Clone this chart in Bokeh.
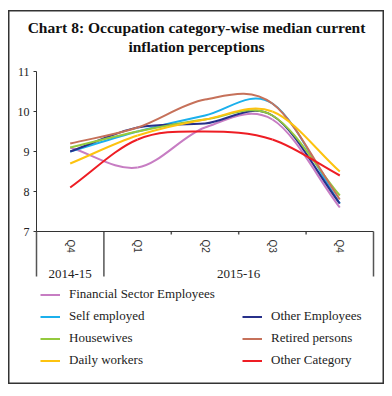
from bokeh.plotting import figure
from bokeh.models import (Range1d, Legend, LegendItem, Label, ColumnDataSource,
                          FixedTicker)
from bokeh.embed import file_html
from bokeh.resources import INLINE

# ---------------- data ----------------
years = ["2014-15", "2015-16", "2015-16", "2015-16", "2015-16"]
quarters = ["Q4", "Q1", "Q2", "Q3", "Q4"]
year_groups = ["2014-15", "2015-16"]

financial = [9.1, 8.6, 9.6, 9.8, 7.6]
self_employed = [9.0, 9.5, 9.9, 10.2, 7.7]
other_employees = [9.0, 9.6, 9.7, 9.9, 7.7]
housewives = [9.1, 9.5, 9.8, 9.9, 7.9]
retired = [9.2, 9.6, 10.3, 10.2, 7.8]
daily_workers = [8.7, 9.4, 9.8, 10.0, 8.5]
other_category = [8.1, 9.3, 9.5, 9.3, 8.4]

y_ticks = [7, 8, 9, 10, 11]

series = [
    ("Financial Sector Employees", financial, "#C77DC3"),
    ("Self employed", self_employed, "#1BB0EC"),
    ("Other Employees", other_employees, "#27308A"),
    ("Housewives", housewives, "#94C93D"),
    ("Retired persons", retired, "#C6715A"),
    ("Daily workers", daily_workers, "#FDC30F"),
    ("Other Category", other_category, "#EE1D24"),
]
left_col = ["Financial Sector Employees", "Self employed", "Housewives", "Daily workers"]
right_col = ["Other Employees", "Retired persons", "Other Category"]

title1 = "Chart 8: Occupation category-wise median current"
title2 = "inflation perceptions"

# ---------------- layout constants (pixels) ----------------
W, H = 376, 374
Y_PX = 160                      # pixels for the 7..11 band
LEFT_PAD, RIGHT_PAD = 28, 11    # pixels left / right of the category band
TOP_PAD = 61                    # pixels above the top tick
BOT_PAD = H - TOP_PAD - Y_PX    # pixels below the bottom tick

y_min, y_max = y_ticks[0], y_ticks[-1]
PY = (y_max - y_min) / Y_PX                      # y data units per pixel
n_cat = len(quarters)
cat_px = (W - LEFT_PAD - RIGHT_PAD) / n_cat      # pixels per category
PX = 1.0 / cat_px                                # x data units per pixel
xi = list(range(n_cat))                          # category index positions
x_lo, x_hi = xi[0] - 0.5, xi[-1] + 0.5

p = figure(x_range=Range1d(x_lo - LEFT_PAD * PX, x_hi + RIGHT_PAD * PX),
           y_range=Range1d(y_min - BOT_PAD * PY, y_max + TOP_PAD * PY),
           width=W, height=H, output_backend="svg", toolbar_location=None,
           title=None, min_border=0)
p.styles = {"margin-left": "8px", "margin-top": "10px"}
p.xgrid.grid_line_color = None
p.ygrid.grid_line_color = None
p.outline_line_color = "#333"
p.outline_line_width = 2
p.background_fill_color = "white"
p.border_fill_color = "white"

SERIF = "Liberation Serif"
SANS = "Liberation Sans"

# y axis at the left edge of the categories, only over 7..11
ya = p.yaxis[0]
ya.fixed_location = x_lo
ya.bounds = (y_min, y_max)
ya.ticker = FixedTicker(ticks=y_ticks)
ya.minor_tick_line_color = None
ya.major_tick_in = 0
ya.major_tick_out = 3
ya.axis_line_color = "#333"
ya.major_tick_line_color = "#333"
ya.major_label_text_font = SERIF
ya.major_label_text_font_size = "12px"
ya.major_label_text_color = "#222"
ya.major_label_standoff = 4

# x axis at y = 7 with quarter labels
xa = p.xaxis[0]
xa.fixed_location = y_min
xa.bounds = (x_lo, x_hi)
xa.ticker = FixedTicker(ticks=xi)
xa.major_label_overrides = {i: q for i, q in zip(xi, quarters)}
xa.minor_tick_line_color = None
xa.major_tick_line_color = None
xa.major_tick_out = 0
xa.major_tick_in = 0
xa.axis_line_color = "#333"
xa.major_label_orientation = "vertical"
xa.major_label_text_font = SANS
xa.major_label_text_font_size = "10px"
xa.major_label_text_color = "#333"
xa.major_label_standoff = 8

# year labels centred under their quarters
year_x = [sum(i for i, y in zip(xi, years) if y == g) / years.count(g) for g in year_groups]
p.text(x=year_x, y=[y_min - 42 * PY] * len(year_groups), text=year_groups,
       text_align="center", text_baseline="middle", text_font={"value": SERIF},
       text_font_size="13px", text_color="#222")

# tick marks between quarters, long separators at group edges
edges = [xi[0] - 0.5] + [i + 0.5 for i in xi]
group_edge = [j == 0 or j == len(edges) - 1 or years[j - 1] != years[j] for j in range(len(edges))]
p.segment(x0=edges, x1=edges, y0=[y_min] * len(edges),
          y1=[y_min - (45 if g else 3) * PY for g in group_edge],
          line_color="#555", line_width=1.5)

# ---------------- smooth lines (bezier through each value) ----------------
def slopes(v):
    n = len(v)
    m = []
    for i in range(n):
        if i == 0:
            m.append(v[1] - v[0])
        elif i == n - 1:
            m.append(v[-1] - v[-2])
        else:
            m.append((v[i + 1] - v[i - 1]) / 2)
    return m

renderers = {}
for name, vals, color in series:
    m = slopes(vals)
    n = len(vals)
    src = ColumnDataSource(dict(
        x0=[xi[i] for i in range(n - 1)],
        x1=[xi[i + 1] for i in range(n - 1)],
        cx0=[xi[i] + 1 / 3 for i in range(n - 1)],
        cx1=[xi[i + 1] - 1 / 3 for i in range(n - 1)],
        y0=[vals[i] for i in range(n - 1)],
        y1=[vals[i + 1] for i in range(n - 1)],
        cy0=[vals[i] + m[i] / 3 for i in range(n - 1)],
        cy1=[vals[i + 1] - m[i + 1] / 3 for i in range(n - 1)],
    ))
    r = p.bezier(x0="x0", y0="y0", x1="x1", y1="y1", cx0="cx0", cy0="cy0",
                 cx1="cx1", cy1="cy1", source=src, line_color=color, line_width=2)
    renderers[name] = r

# ---------------- legends ----------------
def make_legend(names, loc):
    return Legend(items=[LegendItem(label=nm, renderers=[renderers[nm]]) for nm in names],
                  location=loc, orientation="vertical", glyph_width=20, glyph_height=15,
                  label_height=15, label_standoff=9, spacing=6, padding=0, margin=0,
                  border_line_color=None, background_fill_alpha=0,
                  label_text_font=SERIF, label_text_font_size="13px",
                  label_text_color="#222")

p.add_layout(make_legend(left_col, (32, 16)))
p.add_layout(make_legend(right_col, (234, 16)))

# ---------------- title (two centred lines) ----------------
for txt, yy in [(title1, H - 17), (title2, H - 36)]:
    p.add_layout(Label(x=W / 2, y=yy, x_units="screen", y_units="screen", text=txt,
                       text_align="center", text_baseline="middle", text_font=SERIF,
                       text_font_size="15.5px", text_font_style="bold",
                       text_color="#111"))

open("out.html", "w").write(file_html(p, INLINE))
